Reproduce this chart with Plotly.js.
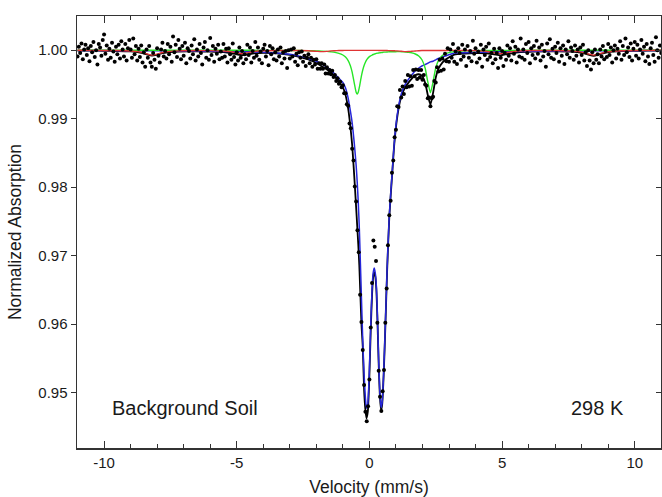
<!DOCTYPE html>
<html><head><meta charset="utf-8">
<script src="https://cdn.plot.ly/plotly-3.0.1.min.js"></script>
<style>html,body{margin:0;padding:0;background:#fff}#chart{width:662px;height:497px}</style>
</head><body><div id="chart"></div>
<script>
// Channel calibration of the measured spectrum (mm/s)
const channelStart = -11.0;
const channelStep = 0.05;

// Measured normalized absorption, one value per channel (-11.00 ... 11.00 mm/s)
const measured = [
.9991,1.0005,.9996,1.0010,.9987,1.0001,1.0008,.9993,1.0003,.9984,
1.0006,.9997,1.0012,.9990,1.0000,.9979,1.0009,1.0004,.9992,1.0015,
1.0023,.9995,1.0007,.9986,1.0002,.9989,1.0011,.9998,.9983,1.0005,
.9994,1.0008,.9988,1.0013,1.0001,.9991,1.0009,.9985,1.0003,1.0015,
1.0001,.9989,1.0017,.9994,1.0006,.9985,1.0002,.9990,1.0007,.9982,
.9997,.9976,1.0001,.9989,1.0006,.9982,.9976,.9996,.9986,.9973,
1.0003,.9992,.9982,1.0001,1.0011,.9991,.9999,.9988,1.0009,.9994,
1.0005,.9983,1.0020,.9997,1.0008,.9990,1.0015,1.0002,.9987,1.0006,
.9992,1.0011,.9981,1.0003,.9999,.9988,1.0007,.9994,1.0016,.9985,
1.0001,.9991,1.0009,.9996,.9979,1.0004,1.0012,.9989,1.0000,.9986,
1.0018,.9993,1.0006,.9983,1.0002,.9995,1.0008,.9987,.9998,.9989,
1.0009,.9991,1.0002,.9982,1.0003,.9994,.9986,1.0010,.9990,.9979,
.9997,.9985,1.0004,.9989,.9999,.9981,.9994,.9987,1.0008,.9993,
1.0004,.9982,.9999,.9989,1.0012,.9992,1.0004,.9986,.9998,.9981,
1.0002,1.0008,.9991,.9999,.9978,1.0006,.9994,1.0003,.9987,.9997,
.9985,1.0001,.9991,1.0004,.9981,.9997,.9988,.9999,.9974,1.0000,
.9988,1.0001,.9991,1.0003,.9983,.9995,.9978,.9997,.9989,.9998,
.9983,.9992,.9977,.9989,.9994,.9981,.9989,.9976,.9986,.9979,
.9987,.9973,.9981,.9973,.9981,.9973,.9979,.9966,.9975,.9966,
.9971,.9965,.9970,.9961,.9964,.9955,.9959,.9951,.9954,.9946,
.9949,.9937,.9937,.9921,.9919,.9893,.9886,.9856,.9839,.9801,
.9779,.9737,.9705,.9643,.9603,.9562,.9511,.9472,.9458,.9480,
.9519,.9595,.9660,.9722,.9713,.9692,.9602,.9532,.9494,.9473,
.9502,.9533,.9602,.9652,.9715,.9759,.9780,.9821,.9839,.9873,
.9884,.9918,.9917,.9942,.9931,.9947,.9936,.9955,.9946,.9964,
.9947,.9962,.9948,.9971,.9962,.9972,.9958,.9971,.9960,.9971,
.9957,.9964,.9950,.9948,.9930,.9931,.9918,.9930,.9932,.9955,
.9953,.9975,.9969,.9986,.9970,.9988,.9972,.9995,.9984,1.0003,
.9983,1.0001,.9989,1.0009,.9983,.9998,.9980,1.0003,.9996,.9986,
1.0008,.9991,1.0001,.9977,1.0006,.9989,.9999,.9984,1.0014,.9995,
1.0003,.9982,.9998,.9988,1.0008,.9976,1.0001,.9993,1.0005,.9986,
1.0010,.9990,.9996,.9981,1.0002,.9987,.9996,.9974,1.0003,.9989,
.9999,.9977,.9996,.9986,1.0007,.9992,1.0003,.9985,1.0013,.9995,
1.0005,.9982,1.0001,.9991,1.0017,.9989,1.0001,.9986,1.0009,.9996,
1.0012,.9981,1.0003,.9993,1.0006,.9988,1.0014,.9995,1.0004,.9985,
1.0008,.9991,.9999,.9976,1.0010,.9994,1.0016,.9989,1.0002,.9987,
1.0005,.9996,1.0011,.9983,1.0003,.9992,1.0007,.9980,1.0001,.9994,
1.0013,.9989,1.0004,.9999,.9986,1.0007,.9992,1.0001,.9982,1.0004,
.9993,1.0008,.9985,.9997,.9977,1.0000,.9985,.9972,.9997,.9981,
1.0001,.9986,.9994,.9981,1.0001,.9991,1.0006,.9987,.9999,.9990,
1.0009,.9993,1.0004,.9982,1.0000,1.0007,.9988,1.0002,.9995,1.0013,
.9986,1.0006,.9993,1.0017,.9997,1.0004,.9990,1.0010,.9985,1.0002,
1.0012,.9992,1.0008,.9988,1.0001,1.0015,.9995,1.0005,.9984,1.0009,
.9991,.9980,1.0003,1.0011,.9993,.9983,1.0019,1.0000,.9989,1.0007,
.9996
];

// Fitted components, sampled at these velocities (mm/s)
const fitVelocity = [-11,-10.5,-10,-9.5,-9,-8.8,-8.6,-8.4,-8.2,-8.0,-7.8,-7.6,-7.2,-6.5,-6,-5.5,-5.2,-5.0,-4.8,-4.6,-4.4,-4.0,-3.5,-3.0,-2.6,-2.3,-2.0,-1.8,-1.6,-1.45,-1.3,-1.15,-1.0,-0.9,-0.8,-0.72,-0.65,-0.57,-0.5,-0.46,-0.42,-0.38,-0.3,-0.25,-0.2,-0.15,-0.11,-0.06,0,0.05,0.1,0.14,0.18,0.22,0.26,0.3,0.35,0.4,0.44,0.48,0.54,0.6,0.67,0.75,0.86,0.94,1.04,1.15,1.25,1.36,1.48,1.6,1.73,1.86,1.98,2.1,2.2,2.3,2.4,2.5,2.6,2.75,2.9,3.2,3.6,4.0,4.4,4.7,4.94,5.2,5.6,6.2,7.0,7.6,8.0,8.25,8.45,8.7,9.0,9.5,10,10.5,11];

// Paramagnetic doublet (blue)
const fitDoubletMain = [
.99996,.99996,.99995,.99994,.99993,.99993,.99992,.99992,.99992,.99991,
.99991,.9999,.9999,.99987,.99985,.99982,.9998,.9998,.99978,.99977,
.99975,.9997,.9996,.9994,.9991,.9988,.9984,.998,.9975,.9971,
.9965,.9959,.9953,.9945,.993,.9912,.9894,.9864,.9832,.9808,
.9778,.974,.9638,.9576,.9527,.9492,.9477,.9484,.9534,.9598,
.965,.9674,.9682,.9675,.9657,.9614,.9546,.9496,.9478,.9485,
.9531,.9598,.9683,.9759,.9822,.9866,.9903,.9928,.9942,.9951,
.9958,.9964,.997,.9974,.9977,.9979,.9981,.9983,.9984,.9986,
.9988,.999,.9992,.9996,.99965,.9997,.99974,.99976,.99978,.9998,
.99982,.99984,.99987,.99989,.9999,.9999,.99991,.99991,.99992,.99993,
.99994,.99995,.99996];

// Fe2+ doublet (green)
const fitDoubletFe2 = [
1.0,1.0,1.0,1.0,1.0,1.0,1.0,1.0,1.0,1.0,
1.0,1.0,1.0,1.0,1.0,1.0,.99999,.99999,.99999,.99999,
.99999,.99998,.99997,.99996,.99995,.99993,.9999,.99987,.99983,.99977,
.99969,.99955,.9993,.999,.99848,.99777,.9968,.9952,.99387,.9936,
.99387,.99456,.99625,.99712,.99777,.99825,.99854,.99882,.99907,.99918,
.9993,.99938,.99943,.99948,.99954,.99957,.9996,.99963,.99965,.99966,
.99972,.99973,.99974,.99977,.99978,.99978,.99979,.99979,.99977,.99974,
.9997,.99961,.99945,.99916,.99861,.9974,.9954,.9938,.9954,.9974,
.99849,.99922,.99954,.99979,.9999,.99994,.99996,.99997,.99998,.99998,
.99999,1.0,1.0,1.0,1.0,1.0,1.0,1.0,1.0,1.0,
1.0,1.0,1.0];

// Magnetic sextet (red)
const fitSextet = [
.99999,.99998,.99997,.99995,.99989,.99983,.99971,.99948,.99928,.99943,
.99967,.9998,.99991,.99995,.99994,.99989,.99977,.99962,.9995,.99962,
.99978,.99992,.99996,.99997,.99996,.99992,.99984,.99979,.99984,.9999,
.99993,.99995,.99997,.99998,.99998,.99998,.99998,.99998,.99998,.99998,
.99998,.99998,.99998,.99998,.99998,.99998,.99998,.99998,.99998,.99998,
.99998,.99998,.99998,.99998,.99998,.99998,.99997,.99997,.99997,.99996,
.99996,.99995,.99995,.99994,.99993,.99992,.9999,.99987,.99983,.9998,
.99981,.99985,.99989,.99993,.99995,.99996,.99997,.99997,.99997,.99997,
.99997,.99997,.99997,.99998,.99997,.99994,.99986,.99967,.9995,.99967,
.99989,.99996,.99995,.9999,.99973,.99946,.99928,.99952,.99979,.99993,
.99997,.99998,.99999];

// Total fit (black)
const fitTotal = [
.99995,.99994,.99992,.99989,.99982,.99976,.99963,.9994,.9992,.99934,
.99958,.9997,.99981,.99982,.99979,.99971,.99956,.99941,.99927,.99938,
.99952,.9996,.99953,.99933,.99901,.99865,.99814,.99766,.99717,.99677,
.99612,.9954,.99457,.99348,.99146,.98895,.98618,.98158,.97705,.97438,
.97165,.96854,.96003,.9567,.95045,.94743,.94622,.9472,.9525,.959,
.9643,.9668,.9676,.967,.9652,.961,.9542,.9492,.9474,.9482,
.9528,.9595,.968,.9756,.982,.9864,.98999,.99246,.9938,.99464,
.99531,.99586,.99634,.99649,.99626,.99526,.99347,.99207,.99377,.99597,
.99726,.99819,.99871,.99937,.99952,.99958,.99956,.9994,.99926,.99945,
.9997,.9998,.99982,.99979,.99963,.99936,.99919,.99943,.99971,.99986,
.99991,.99993,.99995];

const xTickValues = [-10, -5, 0, 5, 10];
const xTickLabels = ['-10', '-5', '0', '5', '10'];
const yTickValues = [0.95, 0.96, 0.97, 0.98, 0.99, 1.00];
const yTickLabels = ['0.95', '0.96', '0.97', '0.98', '0.99', '1.00'];
const sampleLabel = 'Background Soil';
const temperatureLabel = '298 K';

const velocity = measured.map((_, i) => Math.round((channelStart + i * channelStep) * 100) / 100);

const xRange = [-11.02, 10.99];
const yRange = [0.9419, 1.0050];
const FONT = '"Liberation Sans", Arial, Helvetica, sans-serif';

function fitLine(y, color, width) {
  return {x: fitVelocity, y: y, type: 'scatter', mode: 'lines',
          line: {color: color, width: width, shape: 'spline', smoothing: 0.6},
          hoverinfo: 'skip'};
}

const traces = [
  fitLine(fitTotal, '#000000', 1.8),
  fitLine(fitDoubletMain, '#2626d9', 1.5),
  fitLine(fitDoubletFe2, '#27e627', 1.4),
  fitLine(fitSextet, '#e03434', 1.4),
  {x: velocity, y: measured, type: 'scatter', mode: 'markers',
   marker: {color: '#000000', size: 4}},
  {x: [], y: [], yaxis: 'y2', type: 'scatter', mode: 'markers', showlegend: false}
];

const layout = {
  width: 662, height: 497,
  margin: {l: 77, r: 1, t: 16, b: 49},
  paper_bgcolor: '#ffffff', plot_bgcolor: '#ffffff',
  showlegend: false,
  font: {family: FONT, color: '#1a1a1a'},
  xaxis: {
    range: xRange, tickmode: 'array', tickvals: xTickValues, ticktext: xTickLabels,
    ticks: 'inside', ticklen: 7, tickwidth: 1, tickcolor: '#333',
    minor: {dtick: 1, tick0: 0, ticks: 'inside', ticklen: 4, tickwidth: 1, tickcolor: '#333'},
    showline: true, linecolor: '#333', linewidth: 1.5, mirror: 'ticks',
    showgrid: false, zeroline: false,
    tickfont: {size: 15, family: FONT},
    title: {text: 'Velocity (mm/s)', font: {size: 17.5, family: FONT}, standoff: 12}
  },
  yaxis: {
    range: yRange, tickmode: 'array', tickvals: yTickValues, ticktext: yTickLabels,
    ticks: 'outside', ticklen: 5, tickwidth: 1, tickcolor: '#333',
    showline: true, linecolor: '#333', linewidth: 1.5, mirror: true,
    showgrid: false, zeroline: false,
    tickfont: {size: 15, family: FONT},
    title: {text: 'Normalized Absorption', font: {size: 17.5, family: FONT}, standoff: 12}
  },
  yaxis2: {
    overlaying: 'y', side: 'right', range: yRange,
    tickmode: 'array', tickvals: yTickValues, showticklabels: false,
    ticks: 'inside', ticklen: 5, tickwidth: 1, tickcolor: '#333',
    showline: false, showgrid: false, zeroline: false
  },
  annotations: [
    {text: sampleLabel, xref: 'paper', yref: 'y', x: (110 - 77) / 584, y: 0.9478,
     xanchor: 'left', yanchor: 'middle', showarrow: false, font: {size: 20, family: FONT, color: '#1a1a1a'}},
    {text: temperatureLabel, xref: 'paper', yref: 'y', x: (597 - 77) / 584, y: 0.9478,
     xanchor: 'center', yanchor: 'middle', showarrow: false, font: {size: 20, family: FONT, color: '#1a1a1a'}}
  ]
};

Plotly.newPlot('chart', traces, layout, {displayModeBar: false, staticPlot: true});
</script>
</body></html>
